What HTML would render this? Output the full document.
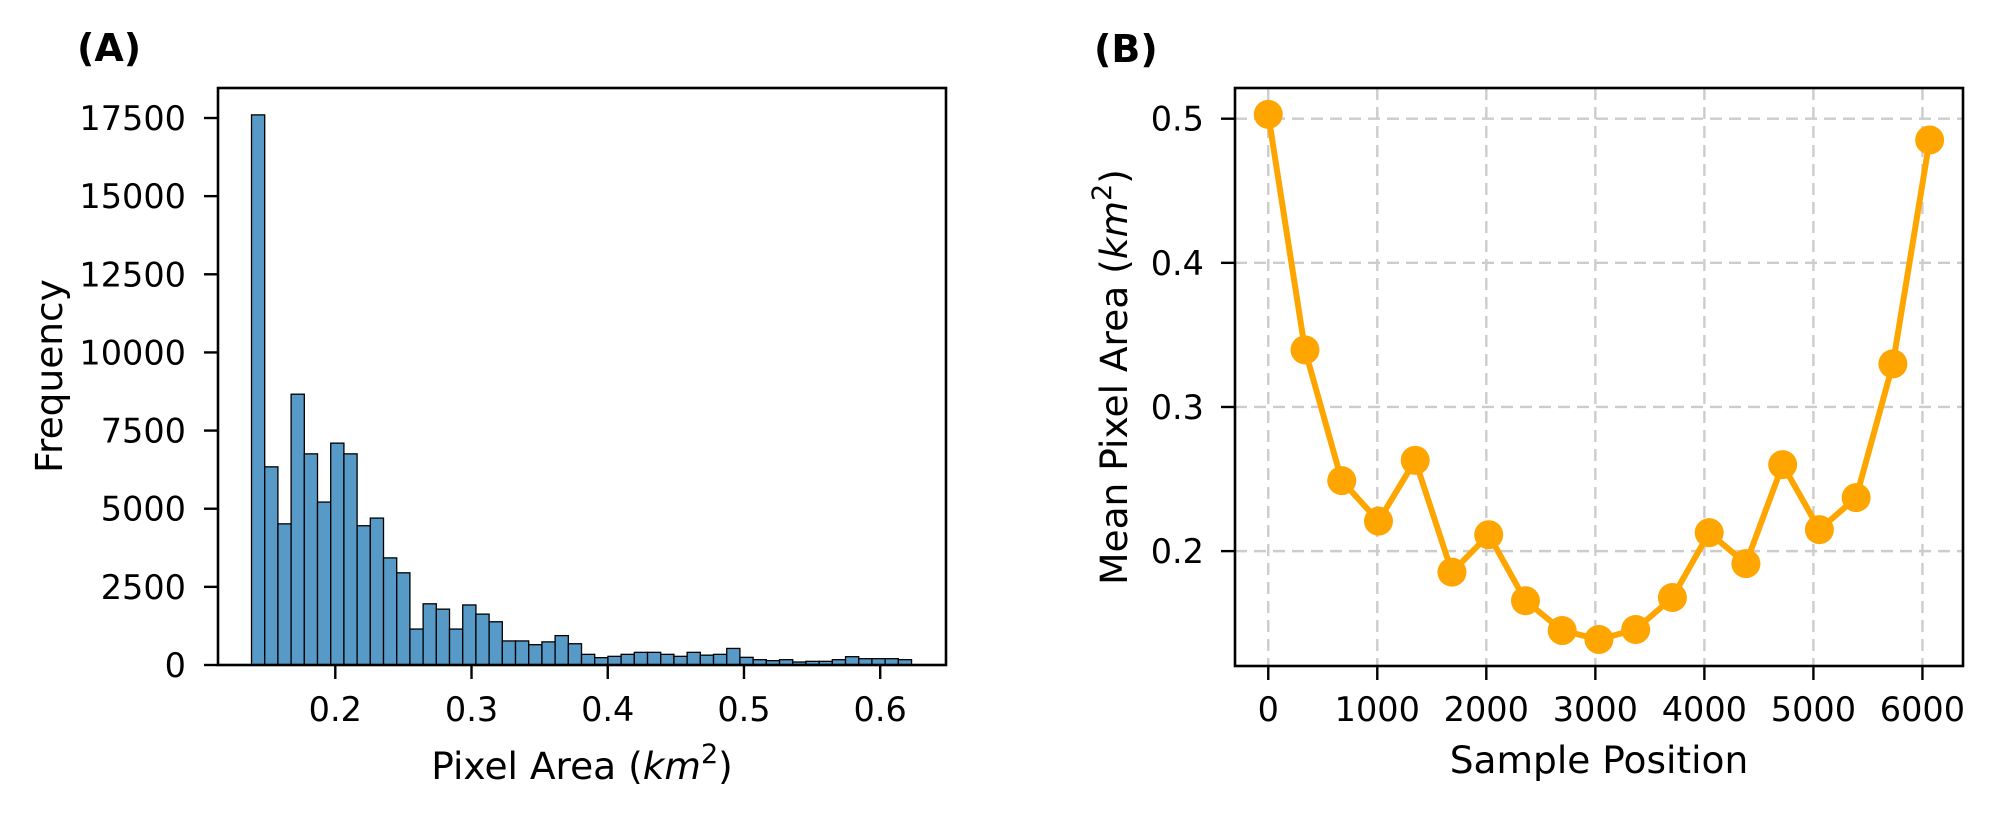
<!DOCTYPE html>
<html>
<head>
<meta charset="utf-8">
<style>
  html,body{margin:0;padding:0;background:#fff;}
  svg{display:block;font-family:"DejaVu Sans","Liberation Sans",sans-serif;}
</style>
</head>
<body>
<svg id="fig" width="1994" height="818" viewBox="0 0 1994 818" xmlns="http://www.w3.org/2000/svg">
  <rect x="0" y="0" width="1994" height="818" fill="#fff"/>
  <g id="panelA"></g>
  <g id="panelB"></g>
  <text x="77" y="61" font-size="38" font-weight="bold" fill="#000">(A)</text>
  <text x="1094" y="62" font-size="38" font-weight="bold" fill="#000">(B)</text>
</svg>
<script>
// ---- Panel A data (histogram) ----
const histBinStart = 0.1385;
const histBinWidth = 0.00969;
const histCounts = [17600,6340,4516,8664,6755,5213,7098,6755,4455,4700,
  3427,2949,1150,1958,1787,1150,1921,1628,1383,770,
  770,650,740,940,680,341,235,277,341,405,
  405,341,277,405,315,341,530,245,170,139,
  170,96,117,117,170,266,202,202,202,170];
const histXTicks = [0.2,0.3,0.4,0.5,0.6];
const histXTickLabels = ["0.2","0.3","0.4","0.5","0.6"];
const histYTicks = [0,2500,5000,7500,10000,12500,15000,17500];
const histYTickLabels = ["0","2500","5000","7500","10000","12500","15000","17500"];

// ---- Panel B data (line) ----
const samplePositions = [0,337,674,1011,1348,1685,2022,2359,2696,3033,3370,3707,4044,4381,4718,5055,5392,5729,6066];
const meanPixelArea = [0.503,0.3396,0.2489,0.2208,0.263,0.1854,0.2114,0.1656,0.1449,0.1387,0.1456,0.1678,0.2128,0.1913,0.26,0.2149,0.2371,0.3299,0.4852];
const lineXTicks = [0,1000,2000,3000,4000,5000,6000];
const lineXTickLabels = ["0","1000","2000","3000","4000","5000","6000"];
const lineYTicks = [0.2,0.3,0.4,0.5];
const lineYTickLabels = ["0.2","0.3","0.4","0.5"];

const NS = "http://www.w3.org/2000/svg";
const TICK_FS = 33.5, LABEL_FS = 37.5;
function mk(tag, attrs, parent){
  const e = document.createElementNS(NS, tag);
  for (const k in attrs) e.setAttribute(k, attrs[k]);
  parent.appendChild(e);
  return e;
}
function lin(d0,d1,r0,r1){ return v => r0 + (v-d0)/(d1-d0)*(r1-r0); }
const SUP = '<tspan font-style="italic">km</tspan><tspan font-size="27" dy="-16">2</tspan><tspan dy="16">)</tspan>';

// ---------- Panel A ----------
(function(){
  const g = document.getElementById('panelA');
  const L=218, R=946, T=88, B=665;
  const xs = lin(0.1139,0.6483,L,R);
  const ys = lin(0,18460,B,T);
  const bars = mk('g',{},g);
  
  
  histCounts.forEach((c,i)=>{
    const x0 = xs(histBinStart + i*histBinWidth), x1 = xs(histBinStart + (i+1)*histBinWidth);
    const r = mk('rect',{x:x0,y:ys(c),width:x1-x0,height:B-ys(c),fill:'#5799c7',stroke:'#000','stroke-width':1.3},bars);
    
    
  });
  const fr = mk('rect',{x:L,y:T,width:R-L,height:B-T,fill:'none',stroke:'#000','stroke-width':2.6},g);
  
  
  histXTicks.forEach((t,i)=>{
    const x = xs(t);
    const tk = mk('line',{x1:x,x2:x,y1:B,y2:B+14,stroke:'#000','stroke-width':2.4},g);
    
    
    const tx = mk('text',{x:x,y:721,'font-size':TICK_FS,'text-anchor':'middle',fill:'#000'},g);
    tx.textContent = histXTickLabels[i];
    
    
  });
  histYTicks.forEach((t,i)=>{
    const y = ys(t);
    const tk = mk('line',{x1:L-14,x2:L,y1:y,y2:y,stroke:'#000','stroke-width':2.4},g);
    
    
    const tx = mk('text',{x:186,y:y+12,'font-size':TICK_FS,'text-anchor':'end',fill:'#000'},g);
    tx.textContent = histYTickLabels[i];
    
    
  });
  const xl = mk('text',{x:582,y:779,'font-size':LABEL_FS,'text-anchor':'middle',fill:'#000'},g);
  xl.innerHTML = 'Pixel Area (' + SUP;
  
  
  const yl = mk('text',{x:0,y:0,'font-size':LABEL_FS,'text-anchor':'middle',fill:'#000',transform:'translate(62,376) rotate(-90)'},g);
  yl.textContent = 'Frequency';
  
  
})();

// ---------- Panel B ----------
(function(){
  const g = document.getElementById('panelB');
  const L=1235, R=1963, T=88, B=666;
  const xs = lin(-305,6372,L,R);
  const ys = lin(0.1203,0.5213,B,T);
  const grid = mk('g',{stroke:'#cccccc','stroke-width':2.4,'stroke-dasharray':'12,7'},g);
  
  
  lineXTicks.forEach(t=>{
    const gl = mk('line',{x1:xs(t),x2:xs(t),y1:T,y2:B},grid);
    
    
  });
  lineYTicks.forEach(t=>{
    const gl = mk('line',{x1:L,x2:R,y1:ys(t),y2:ys(t)},grid);
    
    
  });
  const pts = samplePositions.map((p,i)=>xs(p)+','+ys(meanPixelArea[i])).join(' ');
  const pl = mk('polyline',{points:pts,fill:'none',stroke:'#ffa500','stroke-width':6,'stroke-linejoin':'round'},g);
  
  
  samplePositions.forEach((p,i)=>{
    const c = mk('circle',{cx:xs(p),cy:ys(meanPixelArea[i]),r:14.5,fill:'#ffa500'},g);
    
    
  });
  const fr = mk('rect',{x:L,y:T,width:R-L,height:B-T,fill:'none',stroke:'#000','stroke-width':2.6},g);
  
  
  lineXTicks.forEach((t,i)=>{
    const x = xs(t);
    const tk = mk('line',{x1:x,x2:x,y1:B,y2:B+14,stroke:'#000','stroke-width':2.4},g);
    
    
    const tx = mk('text',{x:x,y:721,'font-size':TICK_FS,'text-anchor':'middle',fill:'#000'},g);
    tx.textContent = lineXTickLabels[i];
    
    
  });
  lineYTicks.forEach((t,i)=>{
    const y = ys(t);
    const tk = mk('line',{x1:L-14,x2:L,y1:y,y2:y,stroke:'#000','stroke-width':2.4},g);
    
    
    const tx = mk('text',{x:1204,y:y+12,'font-size':TICK_FS,'text-anchor':'end',fill:'#000'},g);
    tx.textContent = lineYTickLabels[i];
    
    
  });
  const xl = mk('text',{x:1599,y:773,'font-size':LABEL_FS,'text-anchor':'middle',fill:'#000'},g);
  xl.textContent = 'Sample Position';
  
  
  const yl = mk('text',{x:0,y:0,'font-size':LABEL_FS,'text-anchor':'middle',fill:'#000',transform:'translate(1127,377) rotate(-90)'},g);
  yl.innerHTML = 'Mean Pixel Area (' + SUP;
  
  
})();
</script>
</body>
</html>
